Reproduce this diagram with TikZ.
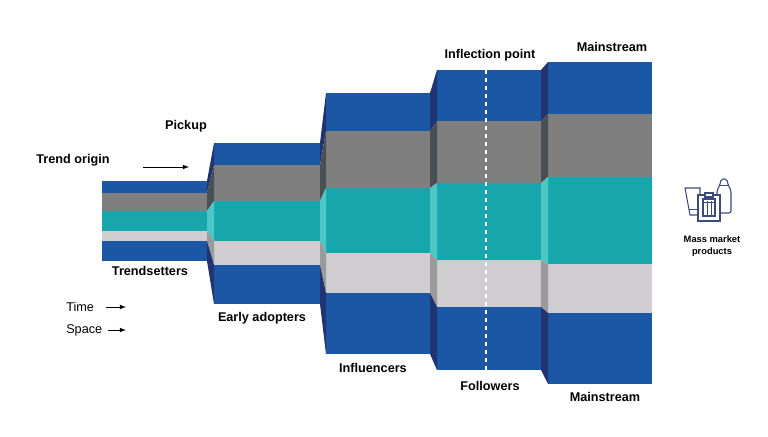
\documentclass[tikz,border=0pt]{standalone}
\usepackage{fontspec}
\setmainfont{Liberation Sans}
\begin{document}
\begin{tikzpicture}[x=0.75pt,y=-0.75pt,
  lbl/.style={font=\bfseries\fontsize{9.5}{11}\selectfont,inner sep=0pt},
  ic/.style={draw=icn,line width=0.8pt,fill=white}]
\definecolor{cb}{HTML}{1B57A5}\definecolor{cg}{HTML}{7F7F7F}
\definecolor{ct}{HTML}{17A6AC}\definecolor{cl}{HTML}{CFCDCF}
\definecolor{sb}{HTML}{1F3470}\definecolor{sg}{HTML}{4A4F55}
\definecolor{st}{HTML}{4FC6C6}\definecolor{sl}{HTML}{9A9A9A}
\definecolor{icn}{HTML}{3D4A7A}
\useasboundingbox (0,0) rectangle (768,436);
% blocks: xl, xr, y0..y5
\def\blocks{102/207/181/193/211/231/241/261,214/320/143/165/201/241/265/304,326/430/93/131/188/253/293/354,437/541/70/121/183/260/307/370,548/652/62/114/177/264/313/384}
\foreach \l/\r/\a/\b/\c/\d/\e/\f in \blocks {
  \fill[cb] (\l,\a) rectangle (\r,\b);
  \fill[cg] (\l,\b) rectangle (\r,\c);
  \fill[ct] (\l,\c) rectangle (\r,\d);
  \fill[cl] (\l,\d) rectangle (\r,\e);
  \fill[cb] (\l,\e) rectangle (\r,\f);
}
% side faces
\foreach \pr/\pa/\pb/\pc/\pd/\pe/\pf/\l/\a/\b/\c/\d/\e/\f in {207/181/193/211/231/241/261/214/143/165/201/241/265/304, 320/143/165/201/241/265/304/326/93/131/188/253/293/354, 430/93/131/188/253/293/354/437/70/121/183/260/307/370, 541/70/121/183/260/307/370/548/62/114/177/264/313/384} {
  \fill[sb] (\pr,\pa) -- (\l,\a) -- (\l,\b) -- (\pr,\pb) -- cycle;
  \fill[sg] (\pr,\pb) -- (\l,\b) -- (\l,\c) -- (\pr,\pc) -- cycle;
  \fill[st] (\pr,\pc) -- (\l,\c) -- (\l,\d) -- (\pr,\pd) -- cycle;
  \fill[sl] (\pr,\pd) -- (\l,\d) -- (\l,\e) -- (\pr,\pe) -- cycle;
  \fill[sb] (\pr,\pe) -- (\l,\e) -- (\l,\f) -- (\pr,\pf) -- cycle;
}
\coordinate (d1) at (486,70); \coordinate (d2) at (486,370);
\draw[white,dashed,line width=0.8pt] (d1) -- (d2);
% labels
\node[lbl] (to) at (73,160) {Trend origin};
\coordinate (a1) at (143,167); \coordinate (a2) at (189,167);
\draw[-latex,line width=0.6pt] (a1) -- (a2);
\node[lbl] (pk) at (186,126) {Pickup};
\node[lbl] (ts) at (150,271) {Trendsetters};
\node[lbl,font=\fontsize{9.5}{11}\selectfont,anchor=west] (tm) at (66,307) {Time};
\node[lbl,font=\fontsize{9.5}{11}\selectfont,anchor=west] (sp) at (66,330) {Space};
\coordinate (t1) at (106,307); \coordinate (t2) at (126,307);
\coordinate (s1) at (108,330); \coordinate (s2) at (126,330);
\draw[-latex,line width=0.6pt] (t1) -- (t2);
\draw[-latex,line width=0.6pt] (s1) -- (s2);
\node[lbl] (ea) at (262,318) {Early adopters};
\node[lbl] (in) at (373,368) {Influencers};
\node[lbl] (ip) at (490,55) {Inflection point};
\node[lbl] (fo) at (490,386) {Followers};
\node[lbl] (m1) at (612,47) {Mainstream};
\node[lbl] (m2) at (605,397) {Mainstream};
\node[lbl,font=\bfseries\fontsize{7}{9.5}\selectfont,align=center] (mm) at (712,246) {Mass market\\products};
% icon
\draw[ic] (685,188) -- (700,188) -- (700,215) -- (690,215) -- cycle;
\draw[icn,line width=0.6pt] (689,209) -- (700,209);
\draw[ic,rounded corners=1.5pt] (717,190) -- (720,185) -- (721,179) -- (727,179) -- (728,185) -- (731,190) -- (731,213) -- (717,213) -- cycle;
\draw[icn,line width=0.6pt] (720,185) -- (728,185);
\draw[ic] (698,195) rectangle (720,221);
\draw[ic] (703,199) rectangle (715,216);
\draw[icn,line width=0.6pt] (707,201) -- (707,215) (711,201) -- (711,215) (703,202) -- (715,202);
\draw[ic] (705,193) rectangle (713,197);
\end{tikzpicture}
\end{document}
